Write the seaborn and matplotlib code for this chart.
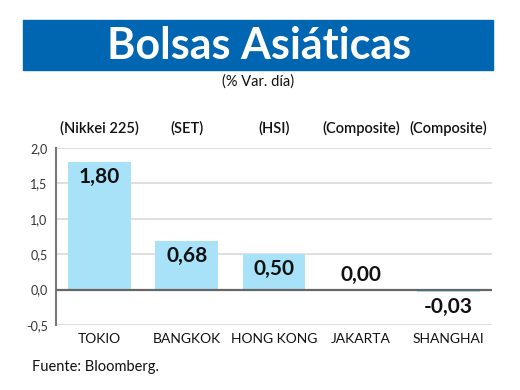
import matplotlib
matplotlib.use("Agg")
import matplotlib.pyplot as plt
import seaborn as sns
import pandas as pd
from matplotlib.patches import Rectangle

cities = ["TOKIO", "BANGKOK", "HONG KONG", "JAKARTA", "SHANGHAI"]
indices = ["(Nikkei 225)", "(SET)", "(HSI)", "(Composite)", "(Composite)"]
values = [1.80, 0.68, 0.50, 0.00, -0.03]
yticks = [-0.5, 0.0, 0.5, 1.0, 1.5, 2.0]
ytick_labels = ["-0,5", "0,0", "0,5", "1,0", "1,5", "2,0"]

sns.set_theme(style="white")
plt.rcParams['font.family'] = ['Lato', 'DejaVu Sans']

df = pd.DataFrame({"city": cities, "value": values})

fig = plt.figure(figsize=(5.2, 3.9), dpi=100)
ax = fig.add_axes([56/520, 1-325/390, (492-56)/520, (325-148)/390])

sns.barplot(data=df, x="city", y="value", color="#A8E2F8", saturation=1,
            width=0.72, ax=ax, edgecolor="none")

ax.set_ylim(-0.5, 2.0)
ax.set_xlim(-0.5, 4.5)
ax.set_yticks(yticks)
ax.set_yticklabels(ytick_labels, fontsize=9, color="#333333")
for y in yticks:
    if y != 0:
        ax.axhline(y, color="#d9d9d9", lw=1.2, zorder=0)
ax.axhline(0, color="#666666", lw=1.6, zorder=3)
ax.set_xlabel("")
ax.set_ylabel("")
ax.tick_params(axis="x", length=0, pad=6, labelsize=10, colors="#111111")
ax.tick_params(axis="y", length=0, pad=6)
for s in ["top", "right", "bottom"]:
    ax.spines[s].set_visible(False)
ax.spines["left"].set_color("#777777")
ax.spines["left"].set_linewidth(1.5)

for i, v in enumerate(values):
    txt = f"{v:.2f}".replace(".", ",")
    if v >= 0.3:
        ax.text(i, v - 0.07, txt, ha="center", va="top",
                fontsize=15, fontweight="bold", color="#111111")
    elif v >= 0:
        ax.text(i, v + 0.07, txt, ha="center", va="bottom",
                fontsize=15, fontweight="bold", color="#111111")
    else:
        ax.text(i, v - 0.08, txt, ha="center", va="top",
                fontsize=15, fontweight="bold", color="#111111")
    ax.text(i, 2.0 + 0.28, indices[i], ha="center", va="center",
            fontsize=10.5, fontweight="semibold", color="#111111", clip_on=False)

# Title banner
fig.patches.append(Rectangle((23/520, 1-70/390), (493-23)/520, 50/390,
                             transform=fig.transFigure, color="#0066B2", zorder=0))
fig.text(259/520, 1-46/390, "Bolsas Asiáticas", ha="center", va="center",
         fontsize=31, fontweight="bold", color="white")
fig.text(258/520, 1-82/390, "(% Var. día)", ha="center", va="center",
         fontsize=10.5, color="#111111")
fig.text(32/520, 1-367/390, "Fuente: Bloomberg.", ha="left", va="center",
         fontsize=10.5, color="#111111")

fig.savefig("out.png", dpi=100)
